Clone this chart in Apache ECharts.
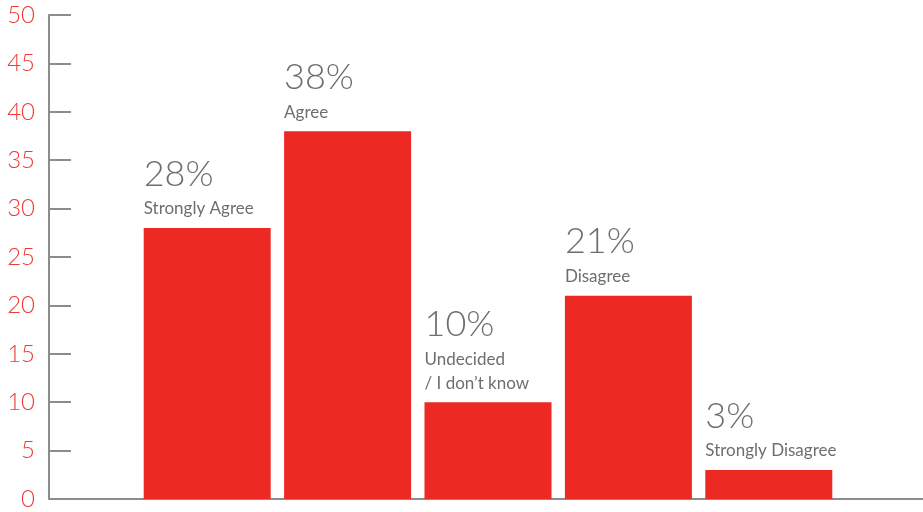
<!DOCTYPE html>
<html>
<head>
<meta charset="utf-8">
<script src="https://cdn.jsdelivr.net/npm/echarts@6/dist/echarts.min.js"></script>
<style>
  html, body { margin: 0; padding: 0; background: #fff; }
  #chart { width: 923px; height: 512px; }
</style>
</head>
<body>
<div id="chart"></div>
<script>
// Survey responses (percent of respondents)
const categories = [
  'Strongly Agree',
  'Agree',
  'Undecided\n/ I don\u2019t know',
  'Disagree',
  'Strongly Disagree'
];
const percentages = [28, 38, 10, 21, 3];
const yTicks = { min: 0, max: 50, interval: 5 };

const RED = '#ED2924';
const GREY_TEXT = '#6d6e71';
const AXIS_GREY = '#8c8c8c';
const FONT = 'Lato, "Open Sans", sans-serif';

const chart = echarts.init(document.getElementById('chart'));

chart.setOption({
  animation: false,
  backgroundColor: '#fff',
  grid: [
    // frame grid: carries the value axis and the baseline
    { left: 49, right: 0, top: 15, bottom: 13 },
    // plotting grid for the bars
    { left: 137, right: 84, top: 15, bottom: 13 }
  ],
  xAxis: [
    {
      gridIndex: 0, type: 'category', data: [''],
      axisLine: { show: true, lineStyle: { color: AXIS_GREY, width: 2 } },
      axisTick: { show: false }, axisLabel: { show: false }
    },
    {
      gridIndex: 1, type: 'category', data: categories,
      axisLine: { show: false }, axisTick: { show: false }, axisLabel: { show: false }
    }
  ],
  yAxis: [
    {
      gridIndex: 0, type: 'value',
      min: yTicks.min, max: yTicks.max, interval: yTicks.interval,
      axisLine: { show: true, lineStyle: { color: AXIS_GREY, width: 2 } },
      axisTick: { show: true, inside: true, length: 22, lineStyle: { color: AXIS_GREY, width: 2 } },
      splitLine: { show: false },
      axisLabel: { color: '#EE3B36', fontSize: 24, fontWeight: 300, fontFamily: FONT, margin: 14 }
    },
    {
      gridIndex: 1, type: 'value',
      min: yTicks.min, max: yTicks.max, interval: yTicks.interval,
      show: false
    }
  ],
  series: [{
    type: 'bar',
    xAxisIndex: 1,
    yAxisIndex: 1,
    data: percentages,
    barWidth: 127,
    itemStyle: { color: RED },
    label: {
      show: true,
      position: [0, -7],
      align: 'left',
      verticalAlign: 'bottom',
      formatter: p => '{pct|' + p.value + '%}\n{name|' + p.name.split('\n').join('}\n{name|') + '}',
      rich: {
        pct: { fontSize: 36, fontWeight: 300, color: GREY_TEXT, fontFamily: FONT, lineHeight: 46 },
        name: { fontSize: 17, color: GREY_TEXT, fontFamily: FONT, lineHeight: 24 }
      }
    }
  }]
});
</script>
</body>
</html>
